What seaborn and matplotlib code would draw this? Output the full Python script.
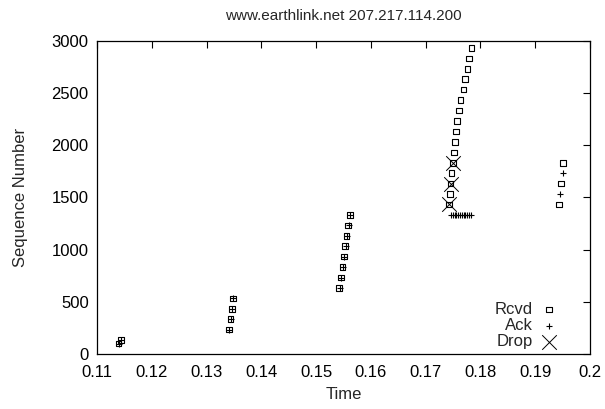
import numpy as np
import pandas as pd
import matplotlib
matplotlib.use('Agg')
import matplotlib.pyplot as plt
import seaborn as sns

# data
rcvd_time = [0.11392, 0.11434,
             0.13410, 0.13441, 0.13464, 0.13488,
             0.15423, 0.15454, 0.15485, 0.15509, 0.15532, 0.15558, 0.15587, 0.15618,
             0.17431, 0.17444, 0.17457, 0.17475, 0.17504, 0.17517, 0.17535, 0.17554,
             0.17577, 0.17608, 0.17639, 0.17687, 0.17718, 0.17760, 0.17791, 0.17840,
             0.19439, 0.19470, 0.19510]
rcvd_seq = [100, 133,
            233, 333, 433, 533,
            633, 733, 833, 933, 1033, 1133, 1233, 1333,
            1433, 1533, 1633, 1733, 1833, 1933, 2033, 2133,
            2233, 2333, 2433, 2533, 2633, 2733, 2833, 2933,
            1433, 1633, 1833]

ack_time = [0.11400, 0.11440,
            0.13414, 0.13441, 0.13468, 0.13488,
            0.15428, 0.15454, 0.15490, 0.15509, 0.15537, 0.15558, 0.15592, 0.15618,
            0.17462, 0.17495, 0.17528, 0.17561, 0.17594, 0.17627, 0.17660, 0.17693,
            0.17726, 0.17759, 0.17792, 0.17825,
            0.19452, 0.19501]
ack_seq = [100, 133,
           233, 333, 433, 533,
           633, 733, 833, 933, 1033, 1133, 1233, 1333,
           1333, 1333, 1333, 1333, 1333, 1333, 1333, 1333,
           1333, 1333, 1333, 1333,
           1533, 1733]

drop_time = [0.17431, 0.17457, 0.17504]
drop_seq = [1433, 1633, 1833]

xtick_vals = [0.11, 0.12, 0.13, 0.14, 0.15, 0.16, 0.17, 0.18, 0.19, 0.2]
xtick_labs = ['0.11', '0.12', '0.13', '0.14', '0.15', '0.16', '0.17', '0.18', '0.19', '0.2']
ytick_vals = [0, 500, 1000, 1500, 2000, 2500, 3000]

sns.set_style('white')
plt.rcParams['font.family'] = ['Liberation Sans', 'DejaVu Sans']

fig = plt.figure(figsize=(6.05, 4.09), dpi=100)
ax = fig.add_axes([0.1603, 0.1345, 0.8149, 0.7653])

rcvd = pd.DataFrame({'t': rcvd_time, 'seq': rcvd_seq})
ack = pd.DataFrame({'t': ack_time, 'seq': ack_seq})
drop = pd.DataFrame({'t': drop_time, 'seq': drop_seq})

sns.scatterplot(data=rcvd, x='t', y='seq', marker='s', s=16, facecolor='none',
                edgecolor='black', linewidth=0.8, label='Rcvd', ax=ax)
sns.scatterplot(data=ack, x='t', y='seq', marker='+', s=16, color='black',
                linewidth=0.8, label='Ack', ax=ax)
sns.scatterplot(data=drop, x='t', y='seq', marker='x', s=110, color='black',
                linewidth=0.7, label='Drop', ax=ax)

ax.set_xlim(0.11, 0.2)
ax.set_ylim(0, 3000)
ax.set_xticks(xtick_vals)
ax.set_xticklabels(xtick_labs)
ax.set_yticks(ytick_vals)
ax.tick_params(direction='in', length=5, width=0.8, top=True, right=True,
               labelsize=12, color='black', labelcolor='black')
ax.tick_params(axis='x', pad=8)
ax.tick_params(axis='y', pad=6)
for sp in ax.spines.values():
    sp.set_color('black')
    sp.set_linewidth(0.9)

ax.set_xlabel('Time', fontsize=12, labelpad=5)
ax.set_ylabel('Sequence Number', fontsize=12, labelpad=17)
ax.set_title('www.earthlink.net 207.217.114.200', fontsize=11, pad=15)

ax.legend(loc='lower right', bbox_to_anchor=(0.947, -0.005), borderaxespad=0,
          markerfirst=False, frameon=False, fontsize=12,
          labelspacing=0.06, handletextpad=0.46, handlelength=1.0)

fig.savefig('out.png', dpi=100)
